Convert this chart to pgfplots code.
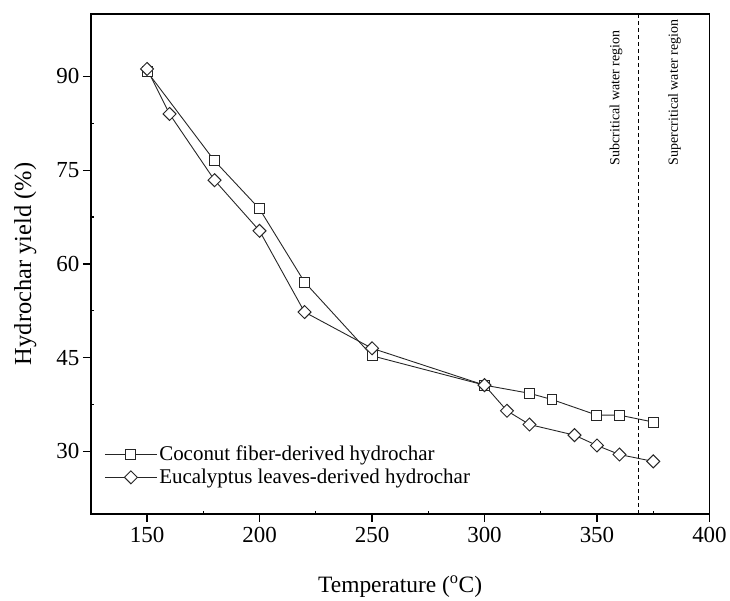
\documentclass[border=0pt]{standalone}
\usepackage{pgfplots}
\pgfplotsset{compat=1.18}
\usepackage{fontspec}
\setmainfont{Liberation Serif}
\begin{document}
\begin{tikzpicture}
\begin{axis}[
  scale only axis,
  width=620pt, height=501pt,
  xmin=125, xmax=400, ymin=20, ymax=100,
  xtick={150,200,250,300,350,400},
  ytick={30,45,60,75,90},
  minor x tick num=1, minor y tick num=1,
  xtick pos=bottom, ytick pos=left,
  tick align=outside,
  major tick length=8pt, minor tick length=3pt,
  every minor x tick/.append style={yshift=3pt},
  every minor y tick/.append style={xshift=3pt},
  axis line style={line width=1.4pt},
  every tick/.style={black, line width=1.2pt},
  /pgf/number format/assume math mode=true,
  tick label style={font=\fontsize{23}{27}\selectfont},
  xticklabel style={yshift=-2pt},
  xlabel={Temperature (\textsuperscript{o}C)},
  ylabel={Hydrochar yield (\%)},
  xlabel style={font=\fontsize{23.5}{28}\selectfont},
  ylabel style={font=\fontsize{24.5}{29}\selectfont},
  xlabel shift=26pt,
  ylabel shift=13pt,
  legend style={draw=none, fill=none, font=\fontsize{21}{24}\selectfont,
    at={(axis cs:131,31.2)}, anchor=north west, row sep=3pt, inner sep=0pt},
  legend cell align=left,
  legend image code/.code={\draw[mark repeat=2, mark phase=2] plot coordinates {(0pt,0pt)(26pt,0pt)(52pt,0pt)};},
]
\addplot[black!85, line width=0.9pt, mark=square*, mark size=5pt,
  mark options={fill=white, line width=1pt}] coordinates {
  (150,90.8) (180,76.5) (200,68.8) (220,57.1) (250,45.3) (300,40.6)
  (320,39.3) (330,38.3) (350,35.8) (360,35.8) (375,34.7)};
\addlegendentry{Coconut fiber-derived hydrochar}
\addplot[black!85, line width=0.9pt, mark=square*, mark size=4.6pt,
  mark options={fill=white, line width=1pt, rotate=45}] coordinates {
  (150,91.2) (160,84.0) (180,73.4) (200,65.3) (220,52.3) (250,46.5)
  (300,40.6) (310,36.5) (320,34.3) (340,32.6) (350,30.95) (360,29.5) (375,28.4)};
\addlegendentry{Eucalyptus leaves-derived hydrochar}
\draw[black, line width=0.8pt, dash pattern=on 4pt off 3pt] (axis cs:368.2,20) -- (axis cs:368.2,100);
\node[rotate=90, anchor=west, font=\fontsize{14}{17}\selectfont, inner sep=0pt] at (axis cs:358.5,75.8) {Subcritical water region};
\node[rotate=90, anchor=west, font=\fontsize{14}{17}\selectfont, inner sep=0pt] at (axis cs:384.5,75.8) {Supercritical water region};
\end{axis}
\path (current axis.south west) ++(-91pt,-82pt) rectangle ++(730pt,597pt);
\end{tikzpicture}
\end{document}
